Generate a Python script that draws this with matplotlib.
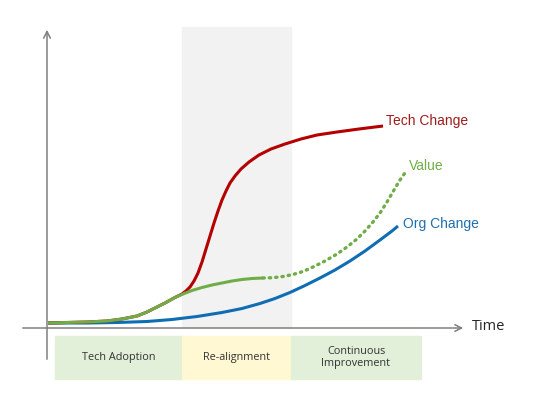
import matplotlib
matplotlib.use("Agg")
from matplotlib import pyplot as plt
from matplotlib.patches import Rectangle

plt.rcParams['font.family'] = ['Liberation Sans', 'DejaVu Sans']

# time (t) and level (v), origin where the two axes cross
tech_t = [1, 20, 40, 60, 75, 90, 100, 110, 118, 127, 131, 135, 139, 143, 147, 151, 155, 159, 163,
          167, 171, 175, 179, 183, 188, 194, 202, 212, 224, 238, 254, 270, 290, 312, 336]
tech_v = [5, 5.5, 6, 7, 9, 12, 16, 21, 25, 30, 32, 34, 37, 41, 47, 55, 66, 79, 92,
          105, 117, 128, 137, 145, 152, 159, 166, 173, 179, 184, 189, 193, 196, 199, 202]

value_t = [1, 20, 40, 60, 75, 90, 100, 110, 118, 127, 136, 145, 155, 165, 175, 185, 195, 205, 216]
value_v = [5, 5.5, 6, 7, 9, 12, 16, 21, 25, 30, 34, 37.5, 40.5, 43, 45, 47, 48.5, 49.5, 50]

value_proj_t = [216, 226, 236, 246, 256, 266, 278, 290, 300, 310, 318, 326, 333, 340, 347, 353, 360]
value_proj_v = [50, 50.3, 51.5, 53.5, 56.5, 61, 67, 74, 81, 89, 97, 106, 115, 126, 138, 148, 158]

org_t = [1, 40, 70, 100, 125, 150, 175, 195, 213, 228, 243, 258, 273, 288, 303, 318, 333, 345, 351]
org_v = [5, 5, 5.5, 6.5, 8.5, 11.5, 15.5, 19.5, 24.5, 29.5, 35.5, 42.5, 50, 58, 67, 77, 88, 97, 102]

band = (135, 244)  # re-alignment period
phases = ['Tech Adoption', 'Re-alignment', 'Continuous\nImprovement']
phase_edges = [8, 135, 244, 374]
phase_colors = ['#e2efd9', '#fff8d2', '#e2efd9']

fig = plt.figure(figsize=(5.33, 4.0), dpi=100)
ax = fig.add_axes([0, 0, 1, 1])
ax.set_xlim(-47, 486)
ax.set_ylim(-72, 328)
ax.axis('off')

# shaded band
ax.add_patch(Rectangle((band[0], 1), band[1] - band[0], 300, color='#f2f2f2', zorder=0))

# phase boxes
for i, name in enumerate(phases):
    x0, x1 = phase_edges[i], phase_edges[i + 1]
    ax.add_patch(Rectangle((x0, -51), x1 - x0, 43, color=phase_colors[i], zorder=0))
    ax.text((x0 + x1) / 2, -29.5, name, ha='center', va='center', fontsize=7.8,
            color='#333333', family=['Open Sans', 'DejaVu Sans'], linespacing=1.2)

# axes with open arrowheads
ax.annotate('', xy=(0, 301), xytext=(0, -34),
            arrowprops=dict(arrowstyle='->', color='#808080', lw=1.1, mutation_scale=12))
ax.annotate('', xy=(419, 0), xytext=(-27, 0),
            arrowprops=dict(arrowstyle='->', color='#808080', lw=1.1, mutation_scale=12))
ax.text(425, 1, 'Time', fontsize=10.5, va='center', ha='left', color='#262626',
        family=['Open Sans', 'DejaVu Sans'])

# curves
ax.plot(org_t, org_v, color='#0f6db3', lw=2.2, solid_capstyle='butt', solid_joinstyle='round', zorder=3)
ax.plot(tech_t, tech_v, color='#b50000', lw=2.2, solid_capstyle='butt', solid_joinstyle='round', zorder=3)
ax.plot(value_t, value_v, color='#70ad47', lw=2.2, solid_capstyle='butt', solid_joinstyle='round', zorder=4)
ax.plot(value_proj_t, value_proj_v, color='#70ad47', lw=2.4, linestyle=(0, (0.4, 1.5)),
        dash_capstyle='round', zorder=4)

ax.text(tech_t[-1] + 3, tech_v[-1] + 5, 'Tech Change', fontsize=10, color='#a01c1c', va='center')
ax.text(value_proj_t[-1] + 2, value_proj_v[-1] + 4, 'Value', fontsize=10, color='#70ad47', va='center')
ax.text(org_t[-1] + 5, org_v[-1] + 2, 'Org Change', fontsize=10, color='#1f6fad', va='center')

fig.savefig('out.png', dpi=100)
